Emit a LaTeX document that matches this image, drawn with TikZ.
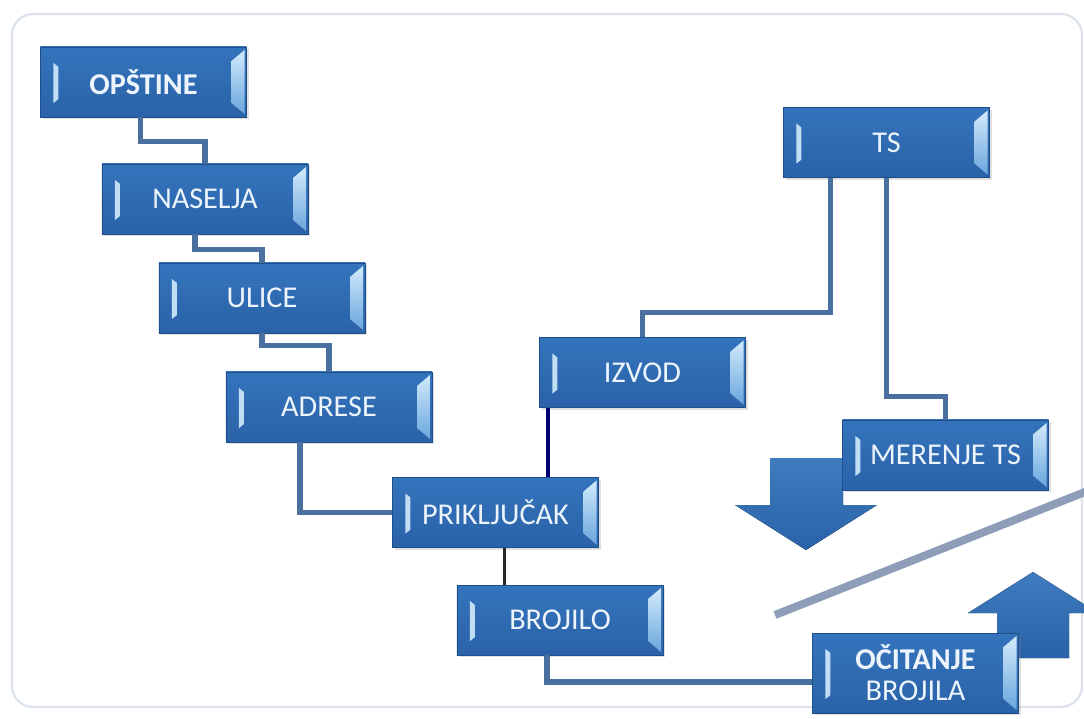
\documentclass[tikz,border=0pt]{standalone}
\usepackage{fontspec}
\setmainfont{Carlito}
\usetikzlibrary{calc,shadows}

\definecolor{plava}{HTML}{3474BC}
\definecolor{plavadole}{HTML}{2A62A8}
\definecolor{rub}{HTML}{1E4F8A}
\definecolor{svijetla}{HTML}{D2EAFB}
\definecolor{svijetladole}{HTML}{6AA6DD}
\definecolor{tekst}{HTML}{EDF4FC}
\definecolor{linija}{HTML}{49709E}
\definecolor{okvir}{HTML}{DCE3EA}
\definecolor{siva}{HTML}{8E9EB8}

\tikzset{
  blok/.style={rectangle, draw=rub, line width=0.6pt,
    top color=plava, bottom color=plavadole,
    minimum width=5.15cm, minimum height=1.75cm,
    text=tekst, font=\fontsize{21.5}{22}\selectfont, align=center,
    drop shadow={opacity=0.25, shadow xshift=1.5pt, shadow yshift=-1.5pt},
    path picture={
      % left light bar
      \fill[svijetla!90!plava]
        ($(path picture bounding box.north west)+(13,16)$) -- ++(5,4)
        -- ($(path picture bounding box.south west)+(18,-18)$) -- ++(-5,4) -- cycle;
      % right bevel
      \shade[top color=svijetla, bottom color=svijetladole]
        ($(path picture bounding box.north east)+(-2,3)$)
        -- ($(path picture bounding box.south east)+(-2,-3)$)
        -- ($(path picture bounding box.south east)+(-15,-14)$)
        -- ($(path picture bounding box.north east)+(-15,14)$) -- cycle;
    }},
  veza/.style={draw=linija, line width=3.6pt},
  vezatamna/.style={draw=blue!45!black, line width=2.6pt},
  vezacrna/.style={draw=black!85, line width=2.6pt},
  strelica/.style={top color=plava!95!white, bottom color=plavadole}
}

\begin{document}
\begin{tikzpicture}[x=0.025cm, y=-0.025cm]

\useasboundingbox (0,0) rectangle (1084,718);
\clip (0,0) rectangle (1084,718);

% Frame
\draw[okvir, line width=1.6pt, rounded corners=15] (12,14) rectangle (1082,707);

% Block arrows
\fill[strelica] (770,458) -- (843,458) -- (843,505) -- (877,505)
  -- (806,550) -- (735,505) -- (770,505) -- cycle;
\fill[strelica] (1033,572) -- (1098,613) -- (1069,613) -- (1069,658)
  -- (997,658) -- (997,613) -- (968,613) -- cycle;

% Diagonal bar
\draw[siva, line width=0.2cm] (775,615) -- (1090,490);

% Boxes
\node[blok] (opstine)    at (143.5,82)   {\bfseries OPŠTINE};
\node[blok] (naselja)    at (205,199)    {NASELJA};
\node[blok] (ulice)      at (262,298)    {ULICE};
\node[blok] (adrese)     at (329,407)    {ADRESE};
\node[blok] (prikljucak) at (495.5,512.5) {PRIKLJUČAK};
\node[blok] (brojilo)    at (560,620)    {BROJILO};
\node[blok] (izvod)      at (642.5,372.5) {IZVOD};
\node[blok] (ts)         at (886.5,142.5) {TS};
\node[blok] (merenje)    at (945.5,455)  {MERENJE TS};
\node[blok, minimum height=2cm] (ocitanje) at (915.5,673)
  {\bfseries OČITANJE\\[0pt]BROJILA};

% Helper points
\coordinate (i1) at ($(izvod.south west)+(9,0)$);
\coordinate (p1) at ($(prikljucak.south)+(9,0)$);
\coordinate (b1) at ($(brojilo.south)+(-13,0)$);
\coordinate (o1) at ($(ocitanje.west)+(0,9)$);

% Connectors
\draw[veza] ($(opstine.south)+(-3,0)$) -- ++(0,24) -| (naselja.north);
\draw[veza] ($(naselja.south)+(-10,0)$) -- ++(0,15) -| (ulice.north);
\draw[veza] (ulice.south) -- ++(0,12) -| (adrese.north);
\draw[veza] ($(adrese.south)+(-29,0)$) |- (prikljucak.west);
\draw[vezatamna] (i1) -- (i1 |- prikljucak.north);
\draw[vezacrna] (p1) -- (p1 |- brojilo.north);
\draw[veza] (b1) |- (o1);
\draw[veza] ($(ts.south)+(-56,0)$) -- ++(0,135) -| (izvod.north);
\draw[veza] (ts.south) -- ++(0,219) -| (merenje.north);

\end{tikzpicture}
\end{document}
